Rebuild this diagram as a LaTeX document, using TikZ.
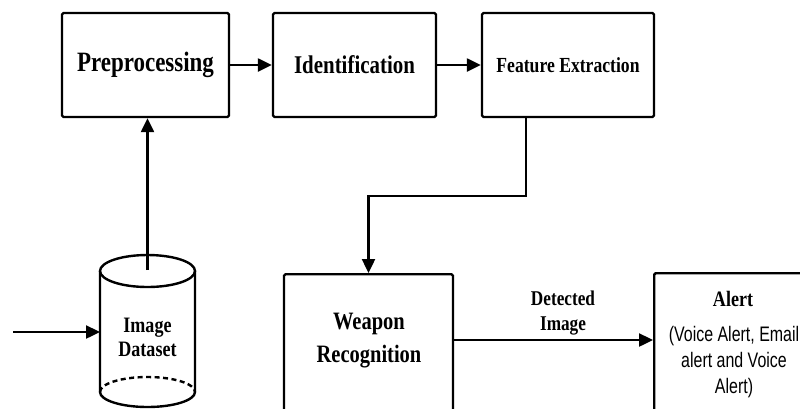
\documentclass[tikz,border=0pt]{standalone}
\usepackage{fontspec}
\newfontfamily\sbf[FakeStretch=0.82]{Liberation Serif Bold}
\newfontfamily\sns[FakeStretch=0.76]{Liberation Sans}
\usetikzlibrary{arrows.meta,calc}
\begin{document}
\begin{tikzpicture}[x=1pt,y=-1pt,
  box/.style={draw, line width=2.4pt, rounded corners=1.5pt, inner sep=0pt},
  arr/.style={line width=2.4pt, -{Triangle[length=14pt,width=13pt]}},
  lab/.style={align=center, inner sep=0pt},
  cyl/.style={line width=2.4pt}]
\useasboundingbox (0,0) rectangle (800,408);
\clip (0,0) rectangle (800,408);
\fill[white] (0,0) rectangle (800,408);

% top row
\node[box, minimum width=167pt, minimum height=104pt, font=\sbf\fontsize{28}{32}\selectfont] (pre) at (145.5,65) {Preprocessing};
\node[box, minimum width=163pt, minimum height=104pt, font=\sbf\fontsize{25.5}{30}\selectfont] (idf) at (354.5,65) {Identification};
\node[box, minimum width=172pt, minimum height=104pt, font=\sbf\fontsize{21.5}{26}\selectfont] (fe) at (568,65) {Feature Extraction};

% weapon recognition
\node[box, minimum width=169pt, minimum height=170pt, anchor=north] (wr) at (368.5,273) {};
\node[lab, font=\sbf\fontsize{25}{33}\selectfont] (wrt) at (369,341) {Weapon\\Recognition};

% alert
\node[box, minimum width=170pt, minimum height=170pt, anchor=north west] (al) at (653,272) {};
\node[lab, font=\sbf\fontsize{22}{26}\selectfont] (alt) at (733,299) {Alert};
\node[lab, font=\sns\fontsize{21}{26}\selectfont] (ald) at (734,362) {(Voice Alert, Email\\alert and Voice\\Alert)};

% cylinder
\draw[cyl] (147.5,271) ellipse [x radius=47.5, y radius=16];
\draw[cyl] (100,271) -- (100,392) arc[start angle=180, end angle=0, x radius=47.5, y radius=15] -- (195,271);
\draw[cyl, dashed, dash pattern=on 5pt off 3.5pt] (100,392) arc[start angle=180, end angle=360, x radius=47.5, y radius=15];
\node[lab, font=\sbf\fontsize{22}{24}\selectfont] (db) at (147.5,337) {Image\\Dataset};
\coordinate (dbtop) at (147.5,270);
\coordinate (dbw) at (100,332);
\coordinate (src) at (13,332);

% label
\node[lab, font=\sbf\fontsize{21}{25}\selectfont] (det) at (563,313) {Detected\\Image};

% connectors
\coordinate (ar) at (0,340);
\draw[arr] (src) -- (dbw);
\draw[arr] (dbtop) -- (dbtop |- pre.south);
\draw[arr] (pre) -- (idf);
\draw[arr] (idf) -- (fe);
\draw[arr] ([xshift=-42pt]fe.south) |- ([yshift=77pt]wr.north) -- (wr.north);
\draw[arr] (wr.east |- ar) -- (al.west |- ar);
\end{tikzpicture}
\end{document}
